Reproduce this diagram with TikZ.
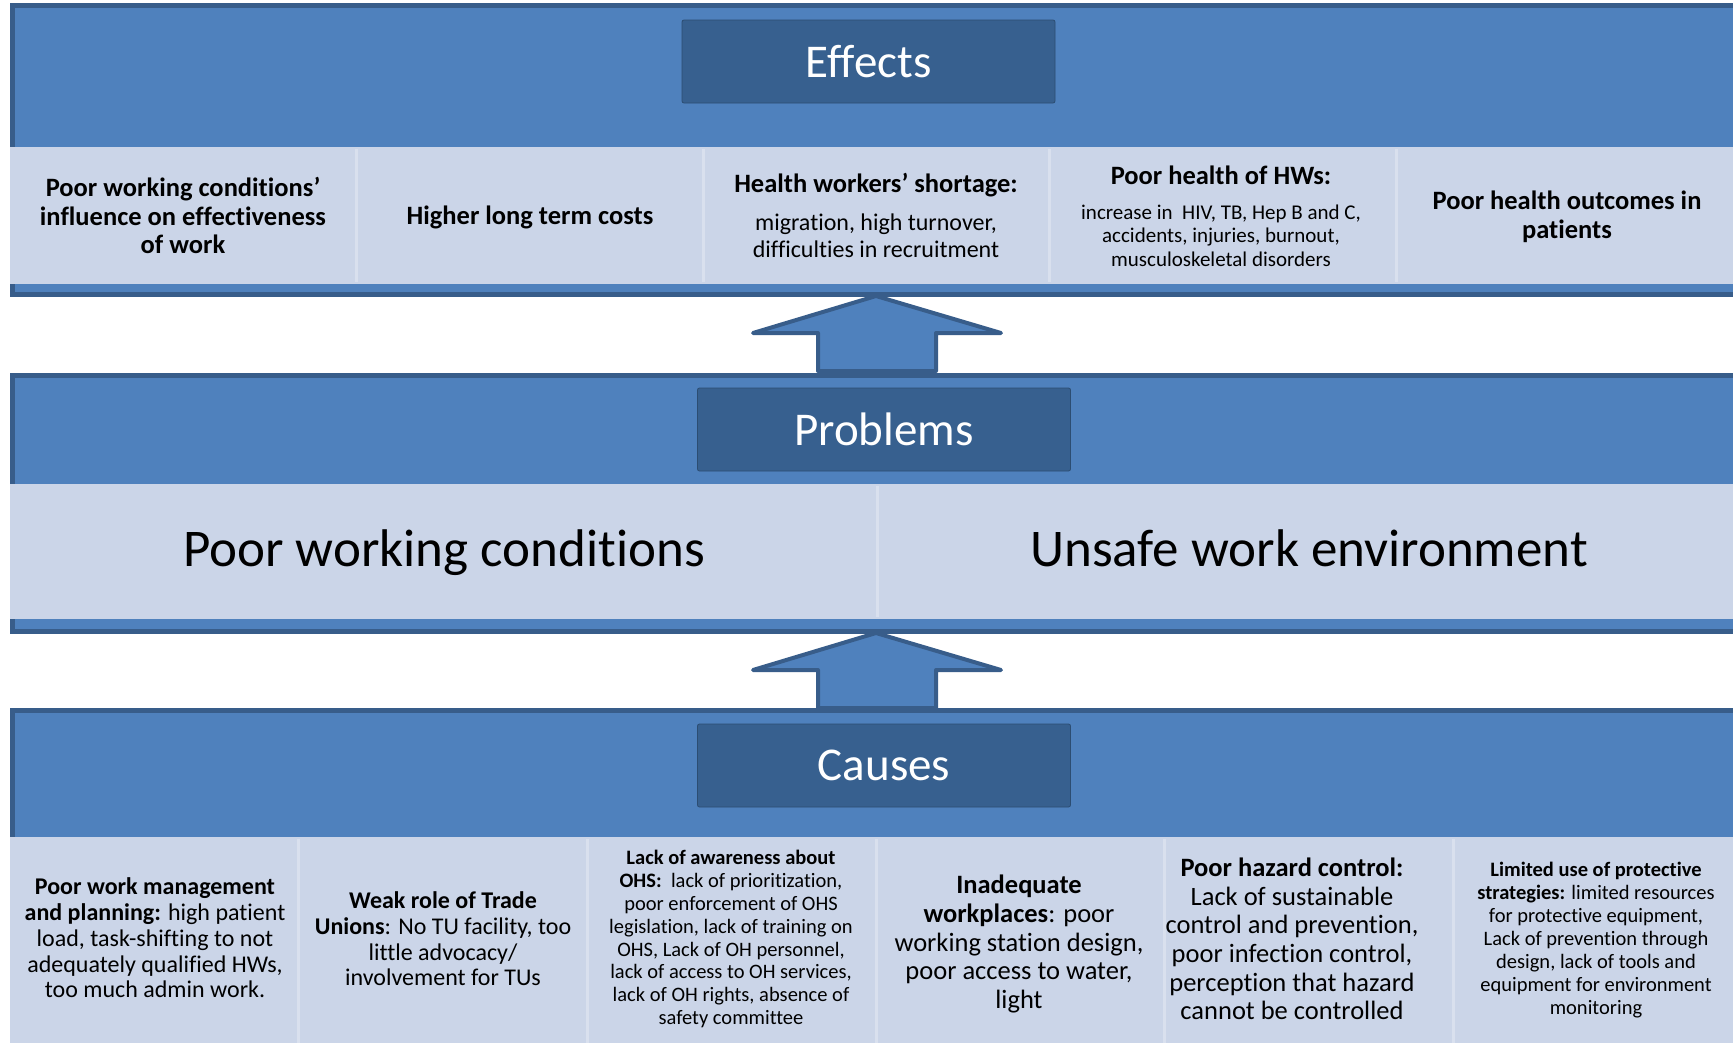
\documentclass[tikz,border=0pt]{standalone}
\usepackage{fontspec}
\setmainfont{Carlito}[Ligatures=NoCommon]
\definecolor{panelfill}{HTML}{4F81BD}
\definecolor{paneldark}{HTML}{385D8A}
\definecolor{titlefill}{HTML}{37608F}
\definecolor{stripfill}{HTML}{CBD5E8}
\definecolor{gapcol}{HTML}{D9E0EE}
\newcommand{\fs}[2]{\fontsize{#1}{#2}\selectfont}
\begin{document}
\begin{tikzpicture}[x=1pt,y=-1pt,
  panel/.style={fill=panelfill, draw=paneldark, line width=5pt},
  stripbox/.style={fill=stripfill, draw=none},
  gapline/.style={draw=gapcol, line width=3pt},
  titlebox/.style={fill=titlefill, draw=titlefill!80!black, line width=0.8pt, rounded corners=2pt,
     text=white, minimum width=373pt, minimum height=83pt, inner sep=0pt, font=\fs{47}{50}},
  blockarrow/.style={fill=panelfill, draw=paneldark, line width=4pt, line join=round},
  celltext/.style={align=center, inner sep=0pt},
  bighead/.style={celltext, font=\fs{26.5}{28.7}\bfseries},
  bigtext/.style={celltext, font=\fs{53}{60}, text height=38pt, text depth=12pt}
]
\useasboundingbox (0,0) rectangle (1733,1042);
\clip (0,0) rectangle (1733,1042);
\fill[white] (0,0) rectangle (1733,1042);

% ---------- panels ----------
\draw[panel] (12.5,5.5) rectangle (1760,294.5);
\fill[stripbox] (10,147) rectangle (1760,284);
\foreach \gx in {356.5,703,1049.5,1396} \draw[gapline] (\gx,149) -- (\gx,282);

\draw[panel] (12.5,375.5) rectangle (1760,631.5);
\fill[stripbox] (10,484) rectangle (1760,619);
\draw[gapline] (877,486) -- (877,617);

\draw[panel] (12.5,710.5) rectangle (1760,1060);
\fill[stripbox] (10,837) rectangle (1760,1060);
\foreach \gx in {298.7,587.3,876,1164.7,1453.3} \draw[gapline] (\gx,839) -- (\gx,1060);

% ---------- arrows ----------
\coordinate (a1) at (876,296);
\draw[blockarrow] (a1) -- ++(125,37) -- ++(-65,0) -- ++(0,38) -- ++(-118,0) -- ++(0,-38) -- ++(-65,0) -- cycle;
\coordinate (a2) at (876,633);
\draw[blockarrow] (a2) -- ++(125,37) -- ++(-65,0) -- ++(0,38) -- ++(-118,0) -- ++(0,-38) -- ++(-65,0) -- cycle;

% ---------- titles ----------
\node[titlebox] (effects) at (868.5,61.5) {Effects};
\node[titlebox] (problems) at (884,429.5) {Problems};
\node[titlebox] (causes) at (884,765.5) {Causes};

% ---------- effects cells ----------
\node[bighead] (e1) at (183,215.5) {Poor working conditions’\\influence on effectiveness\\of work};
\node[bighead] (e2) at (530,217.5) {Higher long term costs};
\node[bighead] (e3h) at (876,185) {Health workers’ shortage:};
\node[celltext, font=\fs{24}{26.5}] (e3b) at (876,236) {migration, high turnover,\\difficulties in recruitment};
\node[bighead] (e4h) at (1221,175) {Poor health of HWs:};
\node[celltext, font=\fs{21}{23.3}] (e4b) at (1221,235.5) {increase in\ \ HIV, TB, Hep B and C,\\accidents, injuries, burnout,\\musculoskeletal disorders};
\node[bighead] (e5) at (1567,217) {Poor health outcomes in\\patients};

% ---------- problems cells ----------
\node[bigtext] (p1) at (444,553.5) {Poor working conditions};
\node[bigtext] (p2) at (1309,553.5) {Unsafe work environment};

% ---------- causes cells ----------
\node[celltext, font=\fs{24}{25.7}] (c1) at (155,938) {\textbf{Poor work management}\\\textbf{and planning:} high patient\\load, task-shifting to not\\adequately qualified HWs,\\too much admin work.};
\node[celltext, font=\fs{24}{25.7}] (c2) at (443,939) {\textbf{Weak role of Trade}\\\textbf{Unions}: No TU facility, too\\little advocacy/\\involvement for TUs};
\node[celltext, font=\fs{20.5}{22.9}] (c3) at (731,939) {\textbf{Lack of awareness about}\\\textbf{OHS:}\ \ lack of prioritization,\\poor enforcement of OHS\\legislation, lack of training on\\OHS, Lack of OH personnel,\\lack of access to OH services,\\lack of OH rights, absence of\\safety committee};
\node[celltext, font=\fs{26.5}{28.7}] (c4) at (1019,944) {\textbf{Inadequate}\\\textbf{workplaces}: poor\\working station design,\\poor access to water,\\light};
\node[celltext, font=\fs{26.5}{28.7}] (c5) at (1292,939) {\textbf{Poor hazard control:}\\Lack of sustainable\\control and prevention,\\poor infection control,\\perception that hazard\\cannot be controlled};
\node[celltext, font=\fs{20.5}{23}] (c6) at (1596,940) {\textbf{Limited use of protective}\\\textbf{strategies:} limited resources\\for protective equipment,\\Lack of prevention through\\design, lack of tools and\\equipment for environment\\monitoring};
\end{tikzpicture}
\end{document}
